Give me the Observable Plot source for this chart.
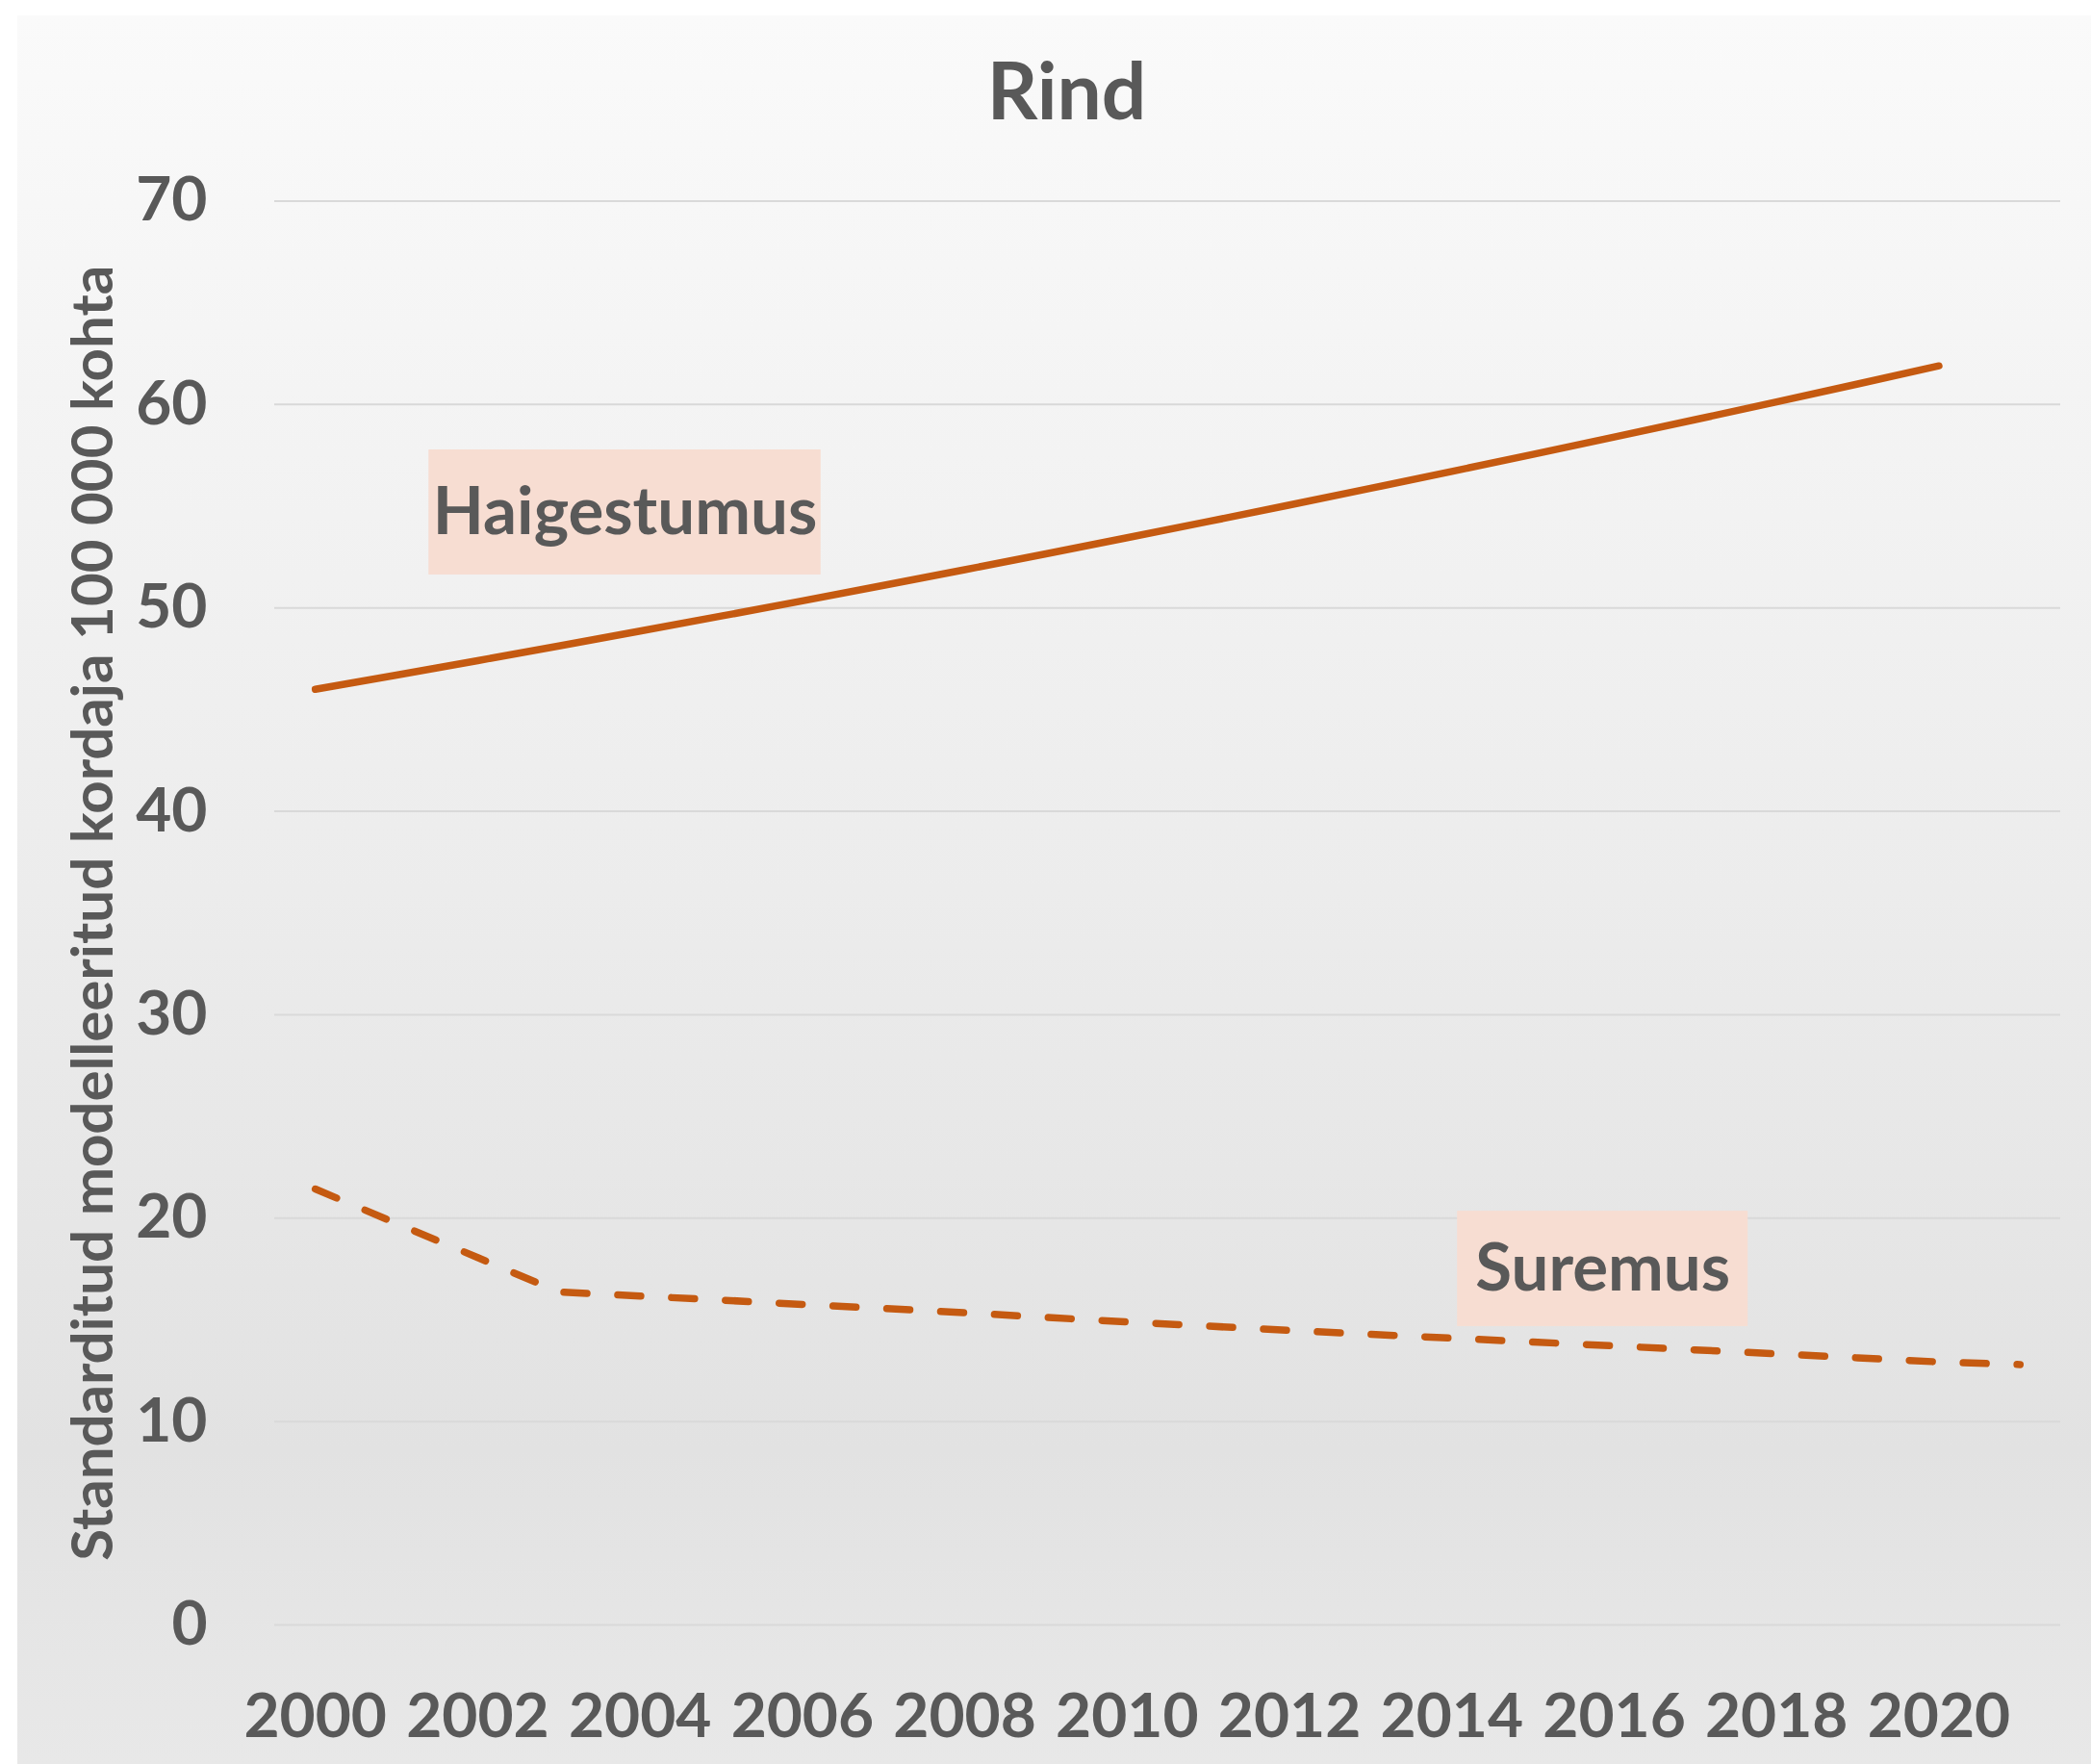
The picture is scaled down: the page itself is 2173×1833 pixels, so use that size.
<!DOCTYPE html>
<html>
<head>
<meta charset="utf-8">
<script src="https://cdn.jsdelivr.net/npm/d3@7"></script>
<script src="https://cdn.jsdelivr.net/npm/@observablehq/plot@0.6"></script>
<style>
  html, body { margin: 0; padding: 0; background: #ffffff; }
  #chart svg { display: block; }
</style>
</head>
<body>
<div id="chart"></div>
<script>
// ---- data ----
const years = d3.range(2000, 2022);
const incidence = [46.00, 46.70, 47.41, 48.13, 48.86, 49.60, 50.35, 51.11, 51.88, 52.66, 53.45,
                   54.25, 55.06, 55.88, 56.71, 57.55, 58.40, 59.26, 60.13, 61.01, 61.90];
const mortality = [21.43, 19.74, 18.06, 16.37, 16.17, 15.97, 15.76, 15.56, 15.35, 15.12, 14.90,
                   14.69, 14.48, 14.29, 14.10, 13.91, 13.72, 13.52, 13.33, 13.13, 12.93, 12.80];
const yTicks = [0, 10, 20, 30, 40, 50, 60, 70];
const xTicks = [2000, 2002, 2004, 2006, 2008, 2010, 2012, 2014, 2016, 2018, 2020];
const seriesLabels = ["Haigestumus", "Suremus"];
const titleText = "Rind";
const yLabel = "Standarditud modelleeritud kordaja 100 000 kohta";

// label boxes, in data units
const labelBoxes = [
  {label: seriesLabels[0], x1: 2001.40, x2: 2006.23, y1: 51.62, y2: 57.77},
  {label: seriesLabels[1], x1: 2014.07, x2: 2017.65, y1: 14.67, y2: 20.34}
];

const incData = incidence.map((v, i) => ({year: years[i], value: v}));
const morData = mortality.map((v, i) => ({year: years[i], value: v}));

const ORANGE = "#c55a11";
const TEXT = "#595959";

const chart = Plot.plot({
  width: 2173,
  height: 1833,
  marginTop: 208.5,
  marginBottom: 145,
  marginLeft: 285,
  marginRight: 32,
  x: {domain: [1999.5, 2021.5]},
  y: {domain: [0, 70]},
  style: {fontFamily: "Lato, 'Open Sans', sans-serif", color: TEXT, overflow: "visible"},
  marks: [
    Plot.gridY(yTicks, {stroke: "#d9d9d9", strokeOpacity: 1, strokeWidth: 2}),
    Plot.axisY(yTicks, {tickSize: 0, tickPadding: 70, fontSize: 64, fontWeight: "bold", fill: TEXT, label: null, tickFormat: d => String(d)}),
    Plot.axisX(xTicks, {tickSize: 0, tickPadding: 71, fontSize: 64, fontWeight: "bold", fill: TEXT, label: null, tickFormat: d => String(d)}),
    Plot.rect(labelBoxes, {x1: "x1", x2: "x2", y1: "y1", y2: "y2", fill: "#f7ddd2"}),
    Plot.text(labelBoxes, {x: d => (d.x1 + d.x2) / 2, y: d => (d.y1 + d.y2) / 2, text: "label",
      fontSize: 69, fontWeight: "bold", fill: TEXT, lineAnchor: "middle"}),
    Plot.line(incData, {x: "year", y: "value", stroke: ORANGE, strokeWidth: 7.5,
      strokeLinecap: "round", strokeLinejoin: "round"}),
    Plot.line(morData, {x: "year", y: "value", stroke: ORANGE, strokeWidth: 7.5,
      strokeLinecap: "round", strokeLinejoin: "round", strokeDasharray: "24,32"}),
    Plot.text([titleText], {frameAnchor: "top", dx: -105, dy: -85.5, lineAnchor: "bottom",
      fontSize: 82, fontWeight: "bold", fill: TEXT}),
    Plot.text([yLabel], {frameAnchor: "left", textAnchor: "middle", dx: -169, rotate: -90, lineAnchor: "bottom",
      fontSize: 60, fontWeight: "bold", fill: TEXT})
  ]
});

chart.style.background = "linear-gradient(to bottom, #fafafa 0%, #ececec 50%, #e2e2e2 82%, #e8e8e8 100%) 18px 16px / calc(100% - 18px) calc(100% - 16px) no-repeat, #ffffff";
document.getElementById("chart").appendChild(chart);
</script>
</body>
</html>
